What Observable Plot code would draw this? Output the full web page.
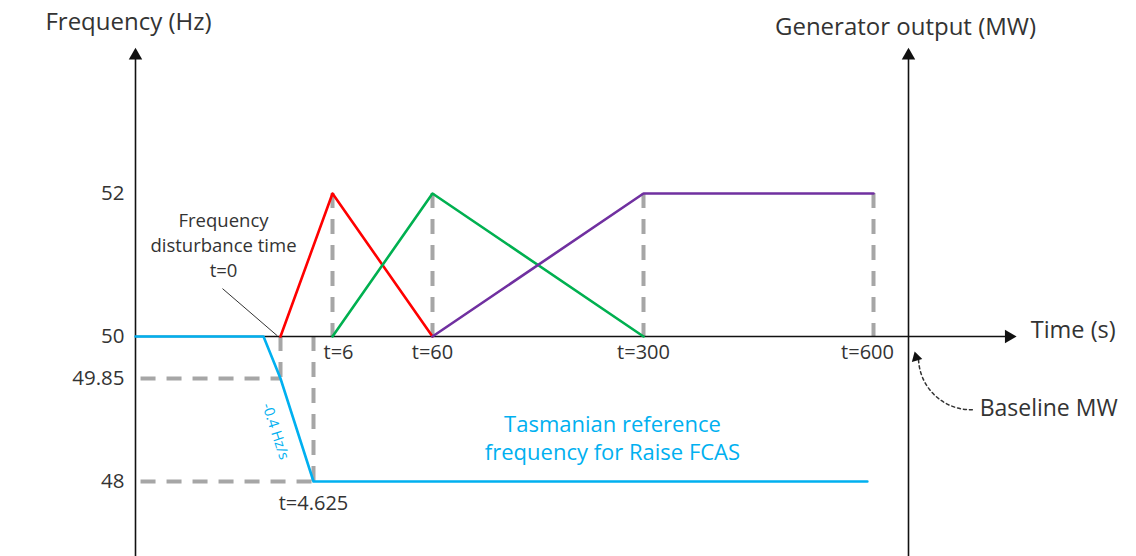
<!DOCTYPE html>
<html>
<head>
<meta charset="utf-8">
<script src="https://cdn.jsdelivr.net/npm/d3@7"></script>
<script src="https://cdn.jsdelivr.net/npm/@observablehq/plot@0.6"></script>
<style>
  html, body { margin: 0; padding: 0; background: #fff; }
  #chart svg { display: block; }
</style>
</head>
<body>
<div id="chart"></div>
<script>
// ---- Data (schematic values) ----
// Frequency trace (Tasmanian reference frequency for Raise FCAS), time in s, frequency in Hz
const blueTimes = [-5, -0.375, 0, 4.625, 592];
const blueFreqs = [50, 50, 49.85, 48, 48];
// Generator output responses (schematic)
const redTimes = [0, 6, 60];
const redLevels = [50, 52, 50];
const greenTimes = [6, 60, 300];
const greenLevels = [50, 52, 50];
const purpleTimes = [60, 300, 600];
const purpleLevels = [50, 52, 52];
// Markers
const peakTimes = [6, 60, 300, 600];        // dashed verticals from 50 to 52
const dropTimes = [0, 4.625];               // dashed guide points on frequency trace
const dropFreqs = [49.85, 48];
const yTicks = [48, 49.85, 50, 52];
const xTickTimes = [6, 60, 300, 600];

// Schematic (non-linear) time and frequency axes: piecewise warps applied as scale transforms
const tAxisLeft = -5;     // where the frequency axis stands
const tAxisRight = 650;   // where the generator output axis stands
const xBreaks = [tAxisLeft, -0.375, 0, 4.625, 6, 60, 300, 600, tAxisRight, 900];
const xUnits  = [135, 263, 280, 313, 332, 432, 643, 873, 908, 1136];
const yBreaks = [47, 48, 49.85, 50, 52, 54.7];
const yUnits  = [0, 75, 178, 220, 363, 556];
const warpX = d3.scaleLinear().domain(xBreaks).range(xUnits);
const warpY = d3.scaleLinear().domain(yBreaks).range(yUnits);

const gray = "#a6a6a6";
const ink = "#333333";
const blue = "#00b0f0";

const series = [
  {t: blueTimes, v: blueFreqs, color: blue},
  {t: redTimes, v: redLevels, color: "#ff0000"},
  {t: greenTimes, v: greenLevels, color: "#00b050"},
  {t: purpleTimes, v: purpleLevels, color: "#7030a0"}
];
const lineRows = series.flatMap((s, k) => s.t.map((t, i) => ({k, t, v: s.v[i], color: s.color})));
const drops = dropTimes.map((t, i) => ({t, f: dropFreqs[i]}));
const dash = "15,11";
const firstTick = xTickTimes[0];
const lastTick = xTickTimes[xTickTimes.length - 1];

const chart = Plot.plot({
  width: 1136,
  height: 556,
  marginLeft: 135,
  marginRight: 228,
  marginTop: 0,
  marginBottom: 0,
  style: {fontFamily: "'Open Sans', 'Noto Sans', sans-serif", background: "#fff", color: ink},
  x: {transform: warpX, domain: [135, 908], axis: null},
  y: {transform: warpY, domain: [0, 556], axis: null},
  marks: [
    // dashed guides
    Plot.ruleX(peakTimes, {x: d => d, y1: 52, y2: 50, stroke: gray, strokeWidth: 4, strokeDasharray: dash}),
    Plot.ruleX(drops, {x: "t", y1: 50, y2: "f", stroke: gray, strokeWidth: 4, strokeDasharray: dash}),
    Plot.ruleY(drops, {y: "f", x1: -4.8, x2: "t", stroke: gray, strokeWidth: 4, strokeDasharray: dash}),
    // axes
    Plot.ruleX([tAxisLeft, tAxisRight], {x: d => d, y1: 47, y2: 53.93, stroke: "#111", strokeWidth: 1.6}),
    Plot.ruleY([50], {y: d => d, x1: tAxisLeft, x2: 760, stroke: "#111", strokeWidth: 1.6}),
    Plot.dot([tAxisLeft, tAxisRight], {x: d => d, y: 53.93, symbol: "triangle", r: 5, fill: "#111", stroke: null}),
    Plot.dot([50], {x: 760, y: d => d, symbol: "triangle", r: 5, rotate: 90, fill: "#111", stroke: null}),
    // series
    Plot.line(lineRows, {x: "t", y: "v", z: "k", stroke: "color", strokeWidth: 2.6}),
    // y tick labels
    Plot.text(yTicks, {x: tAxisLeft, y: d => d, text: d => String(d), textAnchor: "end", dx: -11, fontSize: 20.5, fill: ink}),
    // x time labels
    Plot.text(xTickTimes, {filter: d => d !== firstTick && d !== lastTick, x: d => d, y: 50, text: d => "t=" + d, dy: 16, fontSize: 20, fill: ink}),
    Plot.text([firstTick], {x: d => d, y: 50, text: d => "t=" + d, dx: 6, dy: 16, fontSize: 20, fill: ink}),
    Plot.text([lastTick], {x: d => d, y: 50, text: d => "t=" + d, dx: -6, dy: 16, fontSize: 20, fill: ink}),
    Plot.text([4.625], {x: d => d, y: 48, text: d => "t=" + d, dy: 22, fontSize: 20, fill: ink}),
    // axis titles
    Plot.text(["Frequency (Hz)"], {x: tAxisLeft, y: 54.39, text: d => d, dx: -7, fontSize: 24, fill: ink}),
    Plot.text(["Generator output (MW)"], {x: tAxisRight, y: 54.32, text: d => d, dx: -3, fontSize: 24, fill: ink}),
    Plot.text(["Time (s)"], {x: 784, y: 50.08, text: d => d, textAnchor: "start", fontSize: 23.5, fill: ink}),
    // annotations
    Plot.text(["Frequency\ndisturbance time\nt=0"], {x: -1.82, y: 51.3, text: d => d, fontSize: 18.5, lineHeight: 1.35, fill: ink}),
    Plot.link([0], {x1: -1.857, y1: 50.67, x2: -0.07, y2: 50.01, stroke: ink, strokeWidth: 1}),
    Plot.text(["-0.4 Hz/s"], {x: -0.11, y: 48.9, text: d => d, rotate: 72, fontSize: 14.5, fill: blue}),
    Plot.text(["Tasmanian reference\nfrequency for Raise FCAS"], {x: 264.7, y: 48.8, text: d => d, fontSize: 22, lineHeight: 1.27, fill: blue}),
    Plot.text(["Baseline MW"], {x: 728, y: 49.31, text: d => d, textAnchor: "start", fontSize: 23, fill: ink}),
    Plot.arrow([0], {x1: 720, y1: 49.29, x2: 661, y2: 49.92, bend: 45, headLength: 0, stroke: ink, strokeWidth: 1.5, strokeDasharray: "3,3"}),
    Plot.dot([0], {x: 658.5, y: 49.925, symbol: "triangle", r: 4, rotate: -15, fill: "#111", stroke: null})
  ]
});
document.getElementById("chart").appendChild(chart);
</script>
</body>
</html>
